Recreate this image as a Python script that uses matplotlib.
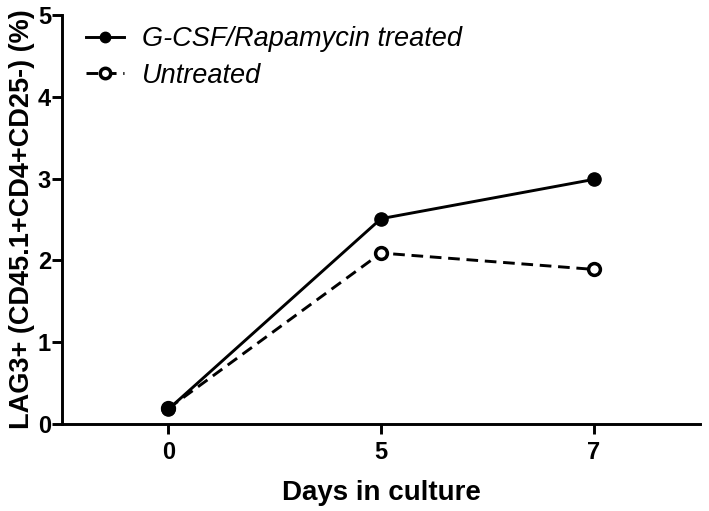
import matplotlib
matplotlib.use("Agg")
import matplotlib.pyplot as plt

days = ["0", "5", "7"]
treated = [0.18, 2.51, 2.99]
untreated = [0.19, 2.09, 1.89]
yticks = [0, 1, 2, 3, 4, 5]

plt.rcParams['font.family'] = ['Liberation Sans', 'DejaVu Sans']

fig = plt.figure(figsize=(7.09, 5.11), dpi=100)
ax = fig.add_axes([62 / 709, 87 / 511, 638 / 709, 409 / 511])

x = list(range(len(days)))
ax.plot(x, treated, '-', color='black', lw=2.1, marker='o', ms=9.5,
        mfc='black', mec='black', label='G-CSF/Rapamycin treated', zorder=3)
ax.plot(x, untreated, '--', color='black', lw=2.1, marker='o', ms=8.5,
        mfc='white', mec='black', mew=2.5, label='Untreated', dashes=(4, 2.3), zorder=2)

ax.set_xlim(-0.5, 2.5)
ax.set_ylim(0, 5)
ax.set_xticks(x)
ax.set_xticklabels(days)
ax.set_yticks(yticks)
for s in ['top', 'right']:
    ax.spines[s].set_visible(False)
for s in ['left', 'bottom']:
    ax.spines[s].set_linewidth(2.1)
ax.tick_params(axis='both', width=2.1, length=7, labelsize=17, pad=5)
ax.tick_params(axis='y', pad=1)
for lab in ax.get_xticklabels() + ax.get_yticklabels():
    lab.set_fontweight('bold')

ax.set_xlabel('Days in culture', fontsize=20, fontweight='bold', labelpad=12)
ax.set_ylabel('LAG3+ (CD45.1+CD4+CD25-) (%)', fontsize=19.5, fontweight='bold', labelpad=2)

leg = ax.legend(loc='upper left', bbox_to_anchor=(86 / 709, 1 - 26 / 511),
                bbox_transform=fig.transFigure, frameon=False,
                prop={'style': 'italic', 'size': 19.5}, handlelength=1.4,
                handletextpad=0.65, labelspacing=0.4, borderaxespad=0, borderpad=0)
for h in leg.legend_handles:
    h.set_markersize(7.5)

fig.savefig('out.png', dpi=100)
